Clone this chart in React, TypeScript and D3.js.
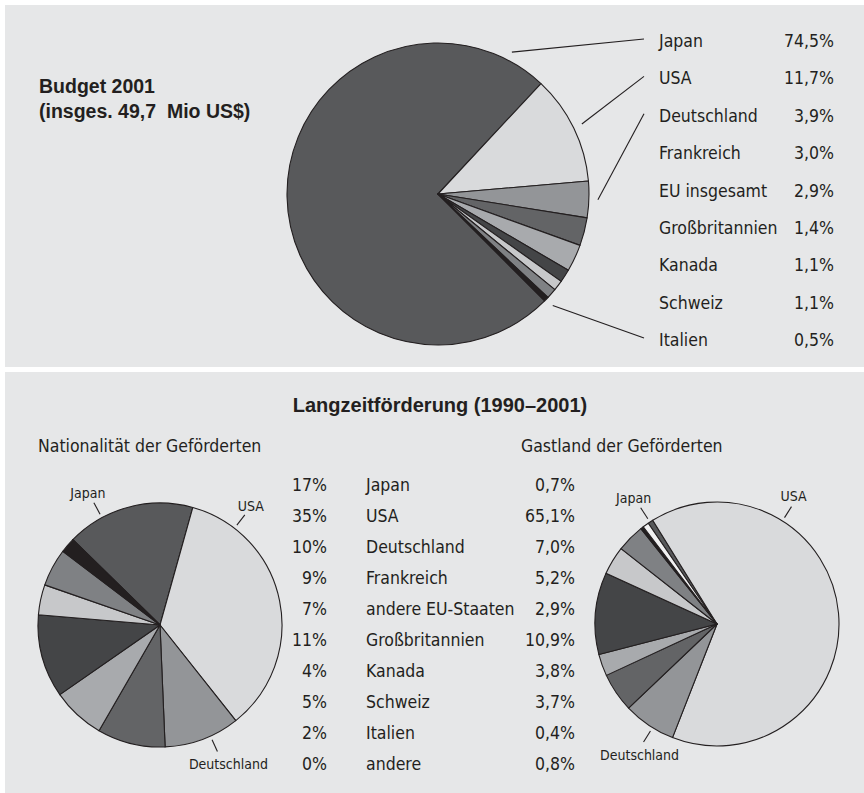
import React, { useEffect, useRef } from "react";
import * as d3 from "d3";

// Budget 2001 (insges. 49,7 Mio US$)
const budgetLaender = ["Japan", "USA", "Deutschland", "Frankreich", "EU insgesamt", "Großbritannien", "Kanada", "Schweiz", "Italien"];
const budgetAnteile = [74.5, 11.7, 3.9, 3.0, 2.9, 1.4, 1.1, 1.1, 0.5];

// Langzeitförderung (1990–2001)
const foerderLaender = ["Japan", "USA", "Deutschland", "Frankreich", "andere EU-Staaten", "Großbritannien", "Kanada", "Schweiz", "Italien", "andere"];
const nationalitaet = [17, 35, 10, 9, 7, 11, 4, 5, 2, 0];
const gastland = [0.7, 65.1, 7.0, 5.2, 2.9, 10.9, 3.8, 3.7, 0.4, 0.8];

// labels at the small pies
const pieLabels = ["Japan", "USA", "Deutschland"];

const budgetFarben = ["#58595b", "#d9dadc", "#939598", "#636466", "#a8aaad", "#444547", "#c7c8ca", "#7f8184", "#231f20"];
const foerderFarben = ["#58595b", "#d9dadc", "#939598", "#636466", "#a8aaad", "#444547", "#c7c8ca", "#7f8184", "#231f20", "#f1f1f2"];

const ink = "#231f20";
const panel = "#e6e7e8";
const regular = "'DejaVu Sans Condensed', 'DejaVu Sans', sans-serif";
const bold = "'Liberation Sans', Arial, sans-serif";

const rad = (deg: number) => (deg * Math.PI) / 180;
const komma = (v: number) => d3.format(".1f")(v).replace(".", ",") + "%";

function drawPie(g: any, values: number[], colors: string[], cx: number, cy: number, r: number, startDeg: number) {
  const pie = d3.pie<number>()
    .sort(null)
    .value(d => d)
    .startAngle(rad(startDeg))
    .endAngle(rad(startDeg + 360));
  const arc = d3.arc<d3.PieArcDatum<number>>().innerRadius(0).outerRadius(r);
  const arcs = pie(values);
  g.append("g")
    .attr("transform", `translate(${cx},${cy})`)
    .selectAll("path")
    .data(arcs)
    .join("path")
    .attr("d", arc)
    .attr("fill", (d: any, i: number) => colors[i])
    .attr("stroke", ink)
    .attr("stroke-width", 1.1)
    .attr("stroke-linejoin", "round");
  return arcs;
}

const polar = (cx: number, cy: number, r: number, a: number): [number, number] =>
  [cx + r * Math.sin(a), cy - r * Math.cos(a)];

function label(g: any, x: number, y: number, txt: string, size: number, anchor = "start", font = regular, weight = "normal") {
  g.append("text")
    .attr("x", x)
    .attr("y", y)
    .attr("text-anchor", anchor)
    .attr("font-family", font)
    .attr("font-weight", weight)
    .attr("font-size", size)
    .attr("fill", ink)
    .style("white-space", "pre")
    .text(txt);
}

const App = () => {
  const ref = useRef<SVGSVGElement>(null);

  useEffect(() => {
    if (!ref.current) return;
    const svg = d3.select(ref.current);
    svg.selectAll("*").remove();

    // panels
    svg.append("rect").attr("x", 5).attr("y", 5).attr("width", 859).attr("height", 362).attr("fill", panel);
    svg.append("rect").attr("x", 5).attr("y", 372).attr("width", 859).attr("height", 421).attr("fill", panel);

    // ---- Budget 2001 ----
    label(svg, 39, 93, "Budget 2001", 19.5, "start", bold, "bold");
    label(svg, 39, 118, "(insges. 49,7  Mio US$)", 19.5, "start", bold, "bold");

    const tcx = 438, tcy = 194, tr = 151;
    const topArcs = drawPie(svg, budgetAnteile, budgetFarben, tcx, tcy, tr, 43 - (budgetAnteile[0] / d3.sum(budgetAnteile)) * 360);

    const rowY = d3.scaleLinear().domain([0, budgetLaender.length - 1]).range([47, 346]);
    budgetLaender.forEach((n, i) => {
      label(svg, 659, rowY(i), n, 17.5);
      label(svg, 834, rowY(i), komma(budgetAnteile[i]), 17.5, "end");
    });

    // leader lines: Japan, USA, Deutschland, Italien
    const leaders: [number, number][] = [
      [0, rad(27.5)],
      [1, (topArcs[1].startAngle + topArcs[1].endAngle) / 2],
      [2, (topArcs[2].startAngle + topArcs[2].endAngle) / 2],
      [8, (topArcs[8].startAngle + topArcs[8].endAngle) / 2],
    ];
    leaders.forEach(([i, a]) => {
      const [x0, y0] = polar(tcx, tcy, tr + 9, a);
      svg.append("line")
        .attr("x1", x0).attr("y1", y0)
        .attr("x2", 644).attr("y2", rowY(i) - 8)
        .attr("stroke", ink).attr("stroke-width", 1.1);
    });

    // ---- Langzeitförderung ----
    label(svg, 440, 412, "Langzeitförderung (1990–2001)", 20, "middle", bold, "bold");
    label(svg, 38, 452, "Nationalität der Geförderten", 17.5);
    label(svg, 521, 452, "Gastland der Geförderten", 17.5);

    const tabY = d3.scaleLinear().domain([0, foerderLaender.length - 1]).range([491, 770]);
    foerderLaender.forEach((n, i) => {
      label(svg, 327, tabY(i), d3.format("d")(nationalitaet[i]) + "%", 17.5, "end");
      label(svg, 366, tabY(i), n, 17.5);
      label(svg, 575, tabY(i), komma(gastland[i]), 17.5, "end");
    });

    const r = 122;
    const lcx = 160, lcy = 625;
    drawPie(svg, nationalitaet, foerderFarben, lcx, lcy, r, 15.6 - (nationalitaet[0] / d3.sum(nationalitaet)) * 360);
    const rcx = 717, rcy = 624;
    drawPie(svg, gastland, foerderFarben, rcx, rcy, r, -31.8 - (gastland[0] / d3.sum(gastland)) * 360);

    // small callouts: angle, label offset
    const callouts = [
      { cx: lcx, cy: lcy, items: [[-28.4, -6, -5], [37.6, 6, -4], [155.6, 11, 17]] },
      { cx: rcx, cy: rcy, items: [[-33.3, -7, -5], [32.4, 2, -6], [211.9, -4, 18]] },
    ];
    callouts.forEach(c => {
      c.items.forEach(([deg, dx, dy], i) => {
        const [x0, y0] = polar(c.cx, c.cy, r + 4, rad(deg));
        const [x1, y1] = polar(c.cx, c.cy, r + 17, rad(deg));
        svg.append("line")
          .attr("x1", x0).attr("y1", y0).attr("x2", x1).attr("y2", y1)
          .attr("stroke", ink).attr("stroke-width", 1.1);
        label(svg, x1 + dx, y1 + dy, pieLabels[i], 14, "middle");
      });
    });
  }, []);

  return (
    <svg
      ref={ref}
      width={864}
      height={793}
      style={{ position: "absolute", left: 0, top: 0, background: "#fff" }}
    />
  );
};

export default App;
